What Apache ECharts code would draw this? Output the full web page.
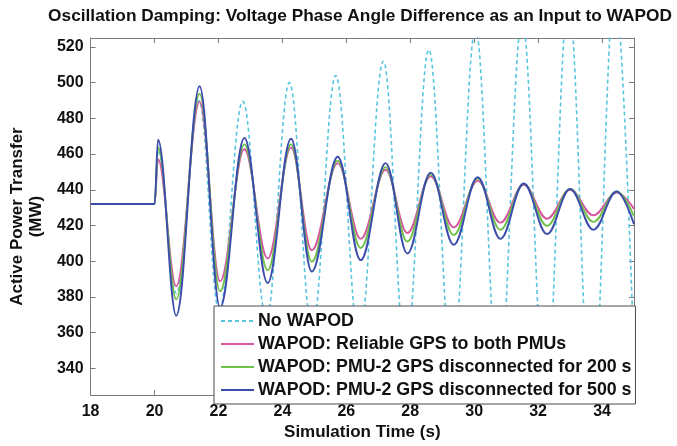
<!DOCTYPE html>
<html>
<head>
<meta charset="utf-8">
<script src="https://cdn.jsdelivr.net/npm/echarts@6/dist/echarts.min.js"></script>
<style>html,body{margin:0;padding:0;background:#fff}#c{width:677px;height:446px}</style>
</head>
<body>
<div id="c"></div>
<script>
// ---- data ----
const titleText = 'Oscillation Damping: Voltage Phase Angle Difference as an Input to WAPOD';
const xName = 'Simulation Time (s)';
const yName = 'Active Power Transfer\n(MW)';
const xTicks = [18, 20, 22, 24, 26, 28, 30, 32, 34];
const yTicks = [340, 360, 380, 400, 420, 440, 460, 480, 500, 520];
const seriesNames = ['No WAPOD', 'WAPOD: Reliable GPS to both PMUs', 'WAPOD: PMU-2 GPS disconnected for 200 s', 'WAPOD: PMU-2 GPS disconnected for 500 s'];

// times of turning points (s)
const tNoWapod = [18, 20, 20.11, 20.68, 21.39, 22.02, 22.76, 23.5, 24.22, 24.93, 25.67, 26.4, 27.16, 27.86, 28.58, 29.31, 30.04, 30.77, 31.5, 32.23, 32.95, 33.68, 34.4, 35.0];
const tWapod = [18, 20, 20.11, 20.68, 21.41, 22.05, 22.81, 23.54, 24.27, 24.92, 25.73, 26.45, 27.23, 27.91, 28.64, 29.36, 30.11, 30.82, 31.55, 32.28, 33.0, 33.73, 34.46, 35.0];

// values (MW)
const noWapod = [432, 432, 462, 382, 490, 372, 489.5, 368, 500, 362, 504, 356, 512, 347, 518.4, 340, 530, 331, 535, 322, 546, 312, 552, 345];
const reliable = [432, 432, 457, 386, 489.2, 388.7, 462.7, 401.5, 463.6, 406.1, 454.9, 412.5, 451.2, 415.8, 447.6, 418.9, 445, 421.6, 442.8, 423.8, 440, 425.7, 438.5, 429.3];
const disc200 = [432, 432, 463.6, 378.7, 493.8, 383.2, 465.4, 395, 465.4, 399.7, 456.3, 407.4, 452.7, 411, 448.6, 414.7, 446.3, 417.6, 443.3, 419.8, 440.4, 422, 439, 425.3];
const disc500 = [432, 432, 468, 369.5, 498, 374, 469, 387.8, 468.6, 394.2, 458.5, 400.6, 454.9, 404.3, 449.6, 409.2, 447, 412.5, 443.5, 415.2, 440.4, 417.6, 439, 420.7];

const colors = ['#58c5df', '#d6579f', '#70c04c', '#3c4cab'];

const pair = (t, v) => t.map((x, i) => [x, v[i]]);
const FONT = '"Liberation Sans", Arial, sans-serif';
const axisGray = '#7a7a7a';

const chart = echarts.init(document.getElementById('c'), null, {renderer: 'canvas'});

function line(name, t, v, color, dashed) {
  return {
    name, type: 'line', data: pair(t, v), showSymbol: false, symbol: 'none',
    smooth: 0.38, smoothMonotone: 'x', clip: true, animation: false,
    lineStyle: {color, width: dashed ? 1.6 : 1.9, type: dashed ? [4, 3] : 'solid'},
    itemStyle: {color}
  };
}

const baseX = {
  type: 'value', min: 18, max: 35,
  axisLine: {show: true, onZero: false, lineStyle: {color: axisGray, width: 1}},
  axisTick: {show: true, inside: true, length: 5, customValues: xTicks, lineStyle: {color: axisGray}},
  splitLine: {show: false}
};
const baseY = {
  type: 'value', min: 325, max: 525,
  axisLine: {show: true, onZero: false, lineStyle: {color: axisGray, width: 1}},
  axisTick: {show: true, inside: true, length: 5, customValues: yTicks, lineStyle: {color: axisGray}},
  splitLine: {show: false}
};

chart.setOption({
  animation: false,
  backgroundColor: '#fff',
  textStyle: {fontFamily: FONT},
  grid: {left: 89, right: 43, top: 38, bottom: 43, containLabel: false},
  graphic: [{
    type: 'text', x: 360, y: 16,
    style: {text: titleText, font: 'bold 17.3px ' + FONT, fill: '#111', align: 'center', verticalAlign: 'middle'},
    z: 10
  }],
  xAxis: [
    Object.assign({}, baseX, {
      position: 'bottom',
      axisLabel: {show: true, customValues: xTicks, margin: 8, color: '#111', fontSize: 16, fontWeight: 'bold', fontFamily: FONT},
      name: xName, nameLocation: 'middle', nameGap: 24,
      nameTextStyle: {color: '#111', fontSize: 17, fontWeight: 'bold', fontFamily: FONT}
    }),
    Object.assign({}, baseX, {position: 'top', axisLabel: {show: false}})
  ],
  yAxis: [
    Object.assign({}, baseY, {
      position: 'left',
      axisLabel: {show: true, customValues: yTicks, margin: 7, color: '#111', fontSize: 16, fontWeight: 'bold', fontFamily: FONT},
      name: yName, nameLocation: 'middle', nameGap: 40, nameRotate: 90,
      nameTextStyle: {color: '#111', fontSize: 17, fontWeight: 'bold', fontFamily: FONT, lineHeight: 19}
    }),
    Object.assign({}, baseY, {position: 'right', axisLabel: {show: false}})
  ],
  legend: {
    show: true, orient: 'vertical', left: 214, top: 306,
    data: seriesNames,
    itemWidth: 33, itemHeight: 14, itemGap: 5,
    padding: [6, 4, 5, 6],
    itemStyle: {opacity: 0},
    backgroundColor: '#fff', borderColor: '#4a4a4a', borderWidth: 1, borderRadius: 0,
    textStyle: {color: '#111', fontSize: 17.8, fontWeight: 'bold', fontFamily: FONT, padding: [0, 0, 0, -1]},
    selectedMode: false
  },
  series: [
    line(seriesNames[0], tNoWapod, noWapod, colors[0], true),
    line(seriesNames[1], tWapod, reliable, colors[1], false),
    line(seriesNames[2], tWapod, disc200, colors[2], false),
    line(seriesNames[3], tWapod, disc500, colors[3], false)
  ]
});
</script>
</body>
</html>
